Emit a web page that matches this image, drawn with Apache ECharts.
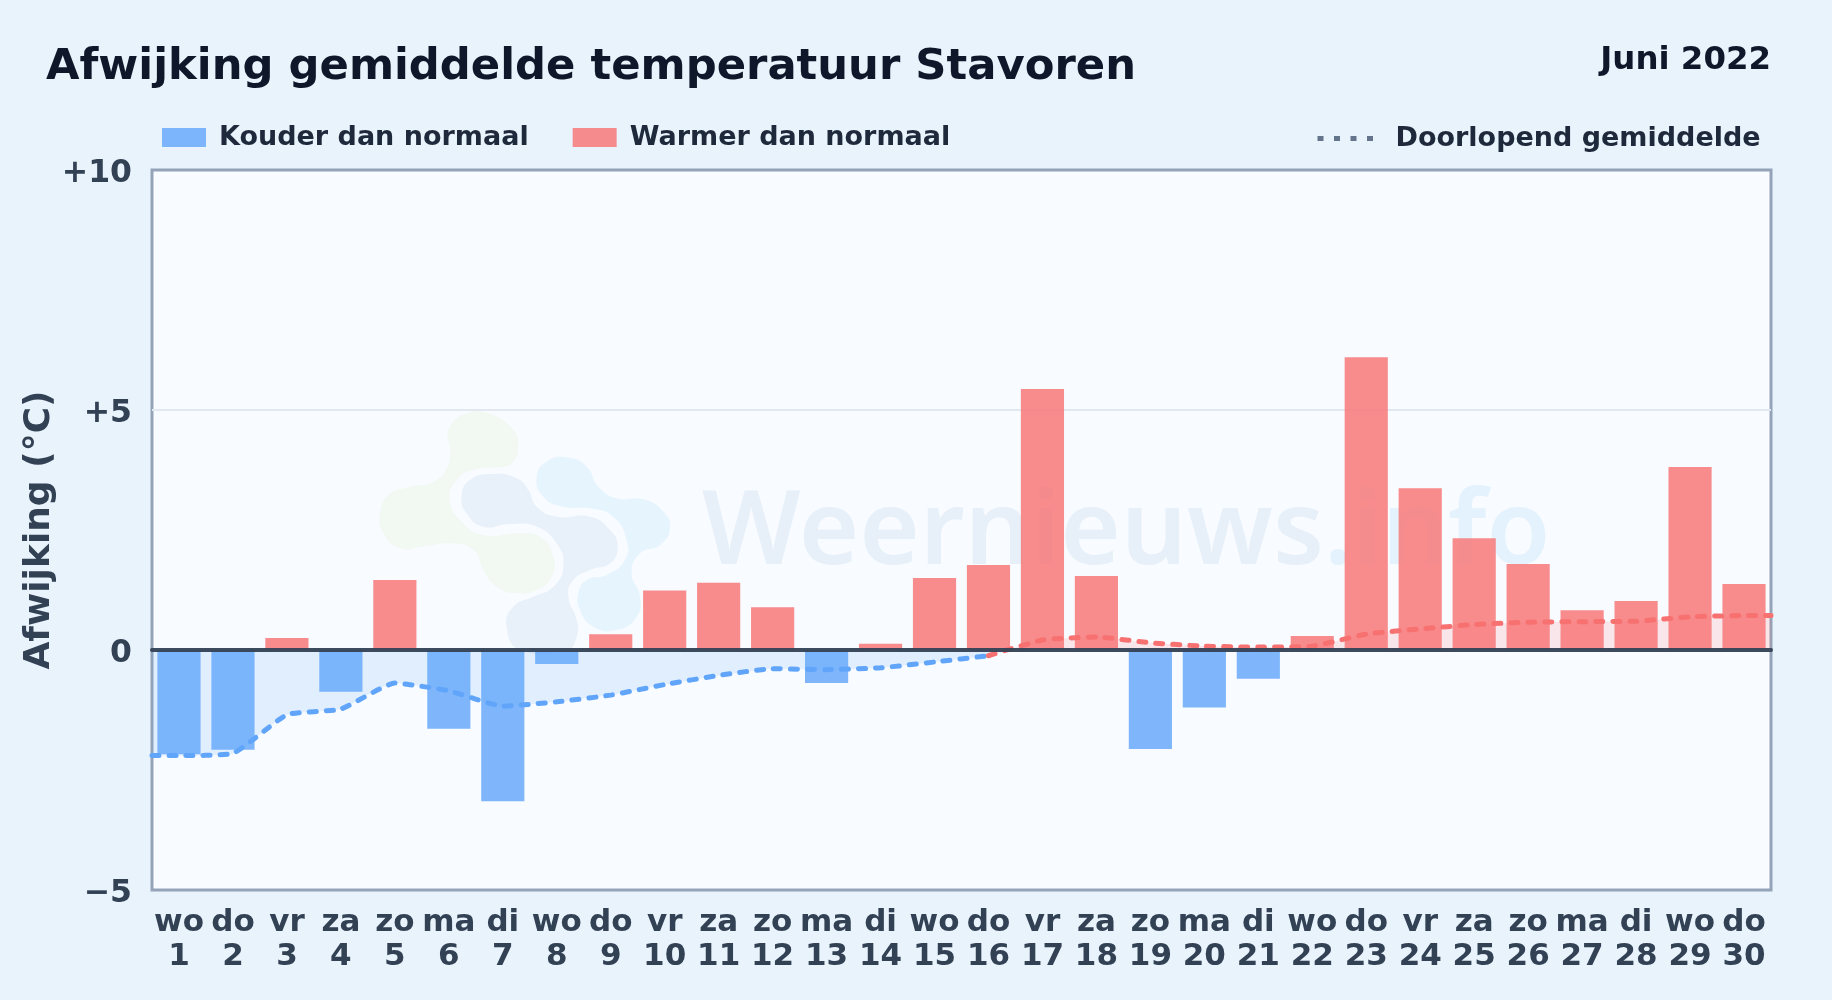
<!DOCTYPE html>
<html><head><meta charset="utf-8">
<style>html,body{margin:0;padding:0;background:#e8f3fc}#c{width:1832px;height:1000px}</style>
<script src="https://cdn.jsdelivr.net/npm/echarts@6/dist/echarts.min.js"></script>
</head><body><div id="c"></div>
<script>
const weekdays = ['wo','do','vr','za','zo','ma','di','wo','do','vr','za','zo','ma','di','wo','do','vr','za','zo','ma','di','wo','do','vr','za','zo','ma','di','wo','do'];
const days = [1,2,3,4,5,6,7,8,9,10,11,12,13,14,15,16,17,18,19,20,21,22,23,24,25,26,27,28,29,30];
const deviation = [-2.17,-2.08,0.25,-0.87,1.46,-1.64,-3.15,-0.29,0.33,1.24,1.40,0.89,-0.69,0.13,1.50,1.77,5.44,1.54,-2.06,-1.20,-0.60,0.29,6.10,3.37,2.33,1.79,0.83,1.02,3.81,1.375];
const runningMean = [-2.20,-2.15,-1.35,-1.23,-0.69,-0.85,-1.17,-1.08,-0.94,-0.72,-0.53,-0.39,-0.41,-0.37,-0.25,-0.12,0.21,0.27,0.15,0.08,0.06,0.08,0.33,0.44,0.53,0.58,0.59,0.60,0.69,0.72];
const yTickLabels = {'10':'+10','5':'+5','0':'0','-5':'\u22125'};
const title = 'Afwijking gemiddelde temperatuur Stavoren';
const period = 'Juni 2022';
const yName = 'Afwijking (\u00b0C)';
const coldName = 'Kouder dan normaal', warmName = 'Warmer dan normaal', meanName = 'Doorlopend gemiddelde';

const FONT = '"DejaVu Sans"';
const categories = weekdays.map((w,i)=>w+'\n'+days[i]);
const coldBars = deviation.map(v=>v<0?v:null);
const warmBars = deviation.map(v=>v>=0?v:null);
const meanPts = days.map((d,i)=>[d,runningMean[i]]);
const splitDay = 16;
const coldMean = [[0.5,runningMean[0]]].concat(meanPts.filter(p=>p[0]<=splitDay));
const warmMean = meanPts.filter(p=>p[0]>=splitDay).concat([[30.5,runningMean[29]]]);

function blob(pts,fill){
  return {type:'polygon',z:1,silent:true,x:350,y:380,scaleX:1/3,scaleY:1/3,
    shape:{points:pts,smooth:0.5},style:{fill:fill}};
}
const legendFont = {fontFamily:FONT,fontSize:27,fontWeight:'bold',color:'#1e293b'};
const chart = echarts.init(document.getElementById('c'));
chart.setOption({
  animation:false,
  backgroundColor:'#e8f3fc',
  textStyle:{fontFamily:FONT},
  title:[
    {text:title,left:41,top:41,textStyle:{fontFamily:FONT,fontSize:43.3,fontWeight:'bold',color:'#0f172a'}},
    {text:period,right:56,top:40,textStyle:{fontFamily:FONT,fontSize:32.4,fontWeight:'bold',color:'#0f172a'}}
  ],
  legend:[
    {data:[coldName,warmName],left:157,top:119,itemWidth:44,itemHeight:19,itemGap:44,icon:'rect',
     textStyle:Object.assign({},legendFont,{padding:[0,0,0,8]})},
    {data:[{name:meanName,itemStyle:{opacity:0},lineStyle:{color:'#64748b',width:5,type:[6,10.5],cap:'butt'}}],
     left:1310,top:120,itemWidth:56,itemHeight:19,
     textStyle:Object.assign({},legendFont,{padding:[0,0,0,17]})}
  ],
  grid:{left:152,right:61,top:170,height:720,show:true,backgroundColor:'#f8fbff',borderColor:'#94a3b8',borderWidth:3,containLabel:false},
  xAxis:[
    {type:'category',data:categories,position:'bottom',axisLine:{show:false,onZero:false},axisTick:{show:false},
     axisLabel:{interval:0,margin:16,fontFamily:FONT,fontSize:31,fontWeight:'bold',color:'#334155',lineHeight:34}},
    {type:'value',min:0.5,max:30.5,show:true,position:'bottom',z:5,
     axisLine:{show:true,onZero:true,lineStyle:{color:'#334155',width:4,opacity:0.95}},axisTick:{show:false},axisLabel:{show:false},splitLine:{show:false}}
  ],
  yAxis:{type:'value',min:-5,max:10,interval:5,
    name:yName,nameLocation:'middle',nameGap:94,nameRotate:90,nameMoveOverlap:false,
    nameTextStyle:{fontFamily:FONT,fontSize:36,fontWeight:'bold',color:'#334155'},
    axisLine:{show:false},axisTick:{show:false},
    axisLabel:{margin:20,verticalAlign:'top',lineHeight:7,fontFamily:FONT,fontSize:31.5,fontWeight:'bold',color:'#334155',formatter:v=>yTickLabels[String(v)]},
    splitLine:{show:true,showMinLine:false,showMaxLine:false,lineStyle:{color:'#e2e8f0',width:2}}},
  graphic:[
    blob([[295,150],[350,100],[430,105],[490,150],[505,190],[490,245],[450,262],[370,270],[320,300],[300,360],[330,420],[400,465],[500,460],[570,470],[610,530],[605,590],[560,630],[500,640],[440,620],[400,570],[370,510],[300,490],[220,500],[150,505],[100,460],[90,400],[115,345],[180,320],[250,305],[290,265],[300,210]],'#f2f9f3'),
    blob([[335,350],[360,300],[430,282],[500,295],[535,330],[560,380],[620,410],[720,410],[780,450],[803,500],[780,550],[720,570],[670,600],[655,650],[680,720],[680,770],[650,810],[510,810],[470,740],[490,680],[550,650],[610,620],[640,560],[620,490],[560,440],[480,432],[400,440],[350,400]],'#e8f0f9'),
    blob([[560,290],[590,245],[650,232],[710,260],[745,320],[800,355],[880,358],[940,395],[960,445],[930,495],[870,520],[845,580],[870,650],[860,710],[800,750],[730,740],[690,690],[685,640],[710,600],[770,585],[825,540],[830,480],[790,410],[720,385],[640,380],[580,350]],'#e6f4fe'),
    {type:'text',z:1,silent:true,x:702,y:586,style:{text:'{a|Weernieuws}{b|.info}',verticalAlign:'bottom',
      rich:{a:{font:'600 103.6px "Noto Sans"',fill:'#e7f0f8'},b:{font:'600 103.6px "Noto Sans"',fill:'#e4f2fd'}}}}
  ],
  series:[
    {name:coldName,type:'bar',stack:'d',xAxisIndex:0,data:coldBars,barWidth:'80%',z:3,itemStyle:{color:'rgba(96,165,250,0.8)'}},
    {name:warmName,type:'bar',stack:'d',xAxisIndex:0,data:warmBars,barWidth:'80%',z:3,itemStyle:{color:'rgba(248,113,113,0.8)'}},
    {name:meanName,type:'line',xAxisIndex:1,data:coldMean,smooth:0.15,symbol:'none',z:2,
     lineStyle:{color:'#60a5fa',width:5,type:[7,10],cap:'round'},areaStyle:{color:'#60a5fa',opacity:0.15},itemStyle:{color:'#60a5fa'}},
    {name:meanName,type:'line',xAxisIndex:1,data:warmMean,smooth:0.15,symbol:'none',z:4,
     lineStyle:{color:'#f87171',width:5,type:[7,10],cap:'round'},areaStyle:{color:'#f87171',opacity:0.15},itemStyle:{color:'#f87171'}}
  ]
});
</script></body></html>
